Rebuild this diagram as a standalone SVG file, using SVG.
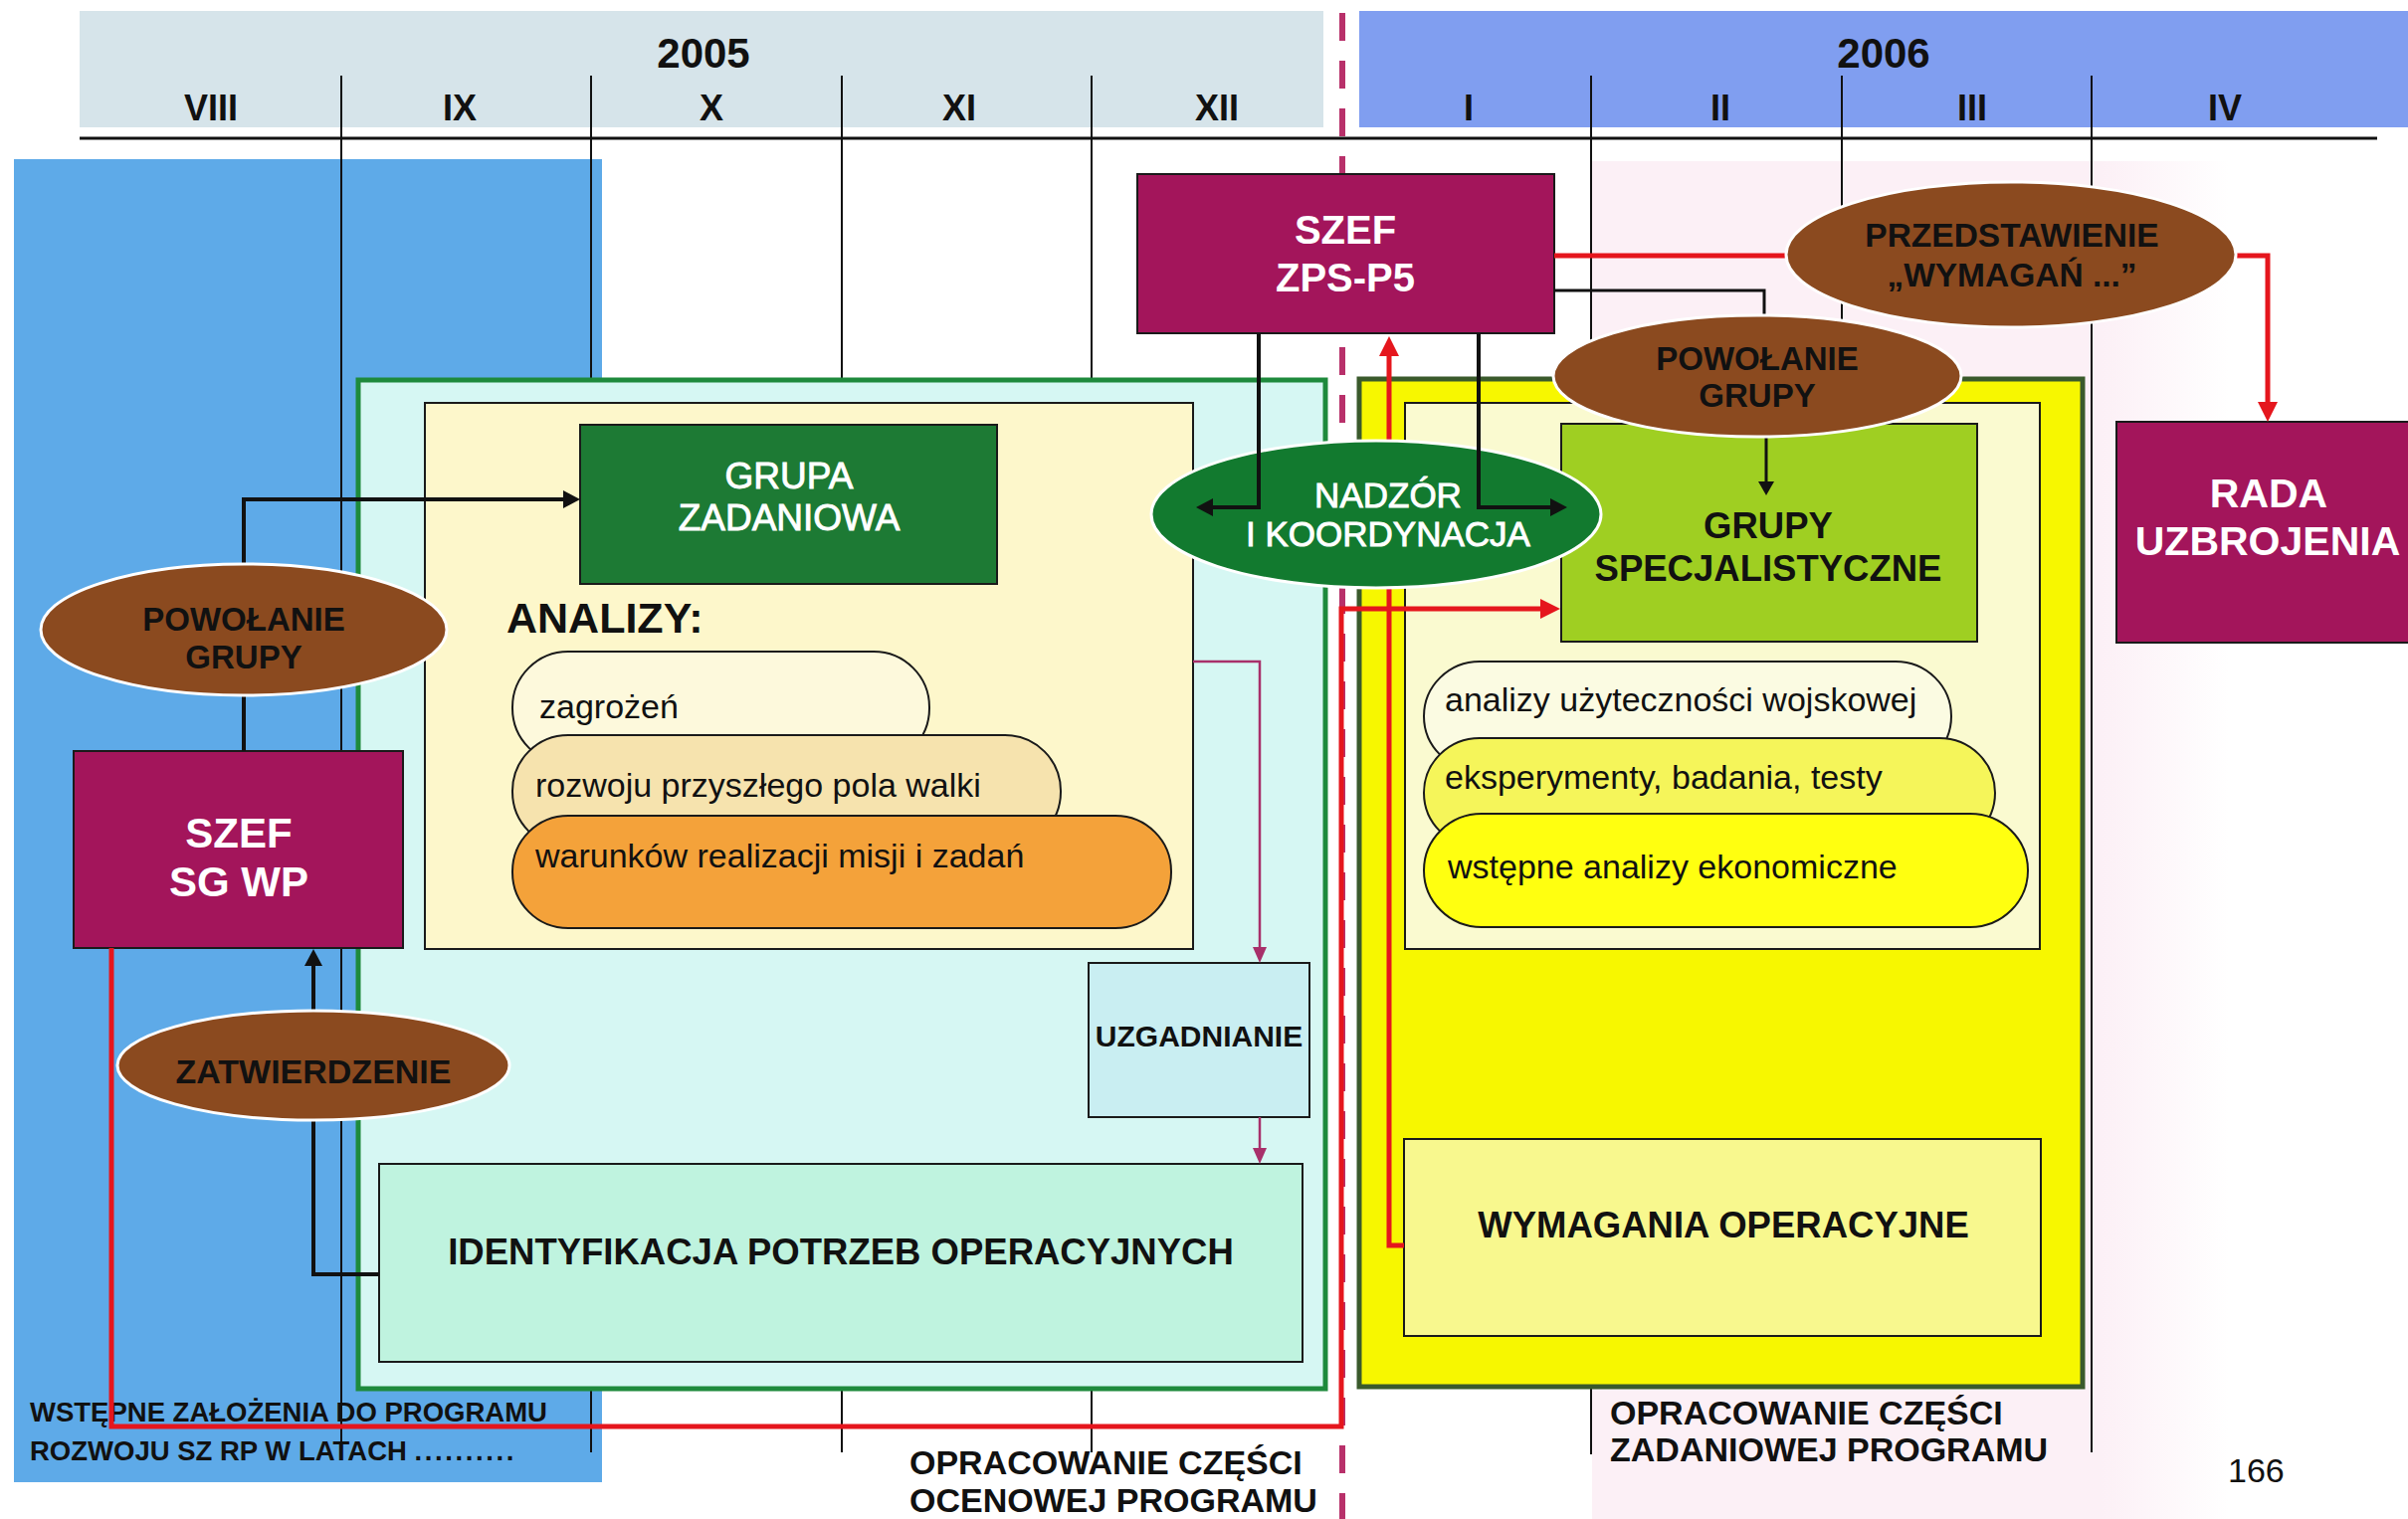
<svg xmlns="http://www.w3.org/2000/svg" width="2420" height="1527" viewBox="0 0 2420 1527">
  <style>
    text { font-family: 'Liberation Sans', Arial, sans-serif; fill: #111; }
    .b { font-weight: bold; }
    .c { text-anchor: middle; }
    .w { fill: #fff; }
    .semi { stroke: #fff; stroke-width: 0.9; }
    .box { stroke: #1a1a1a; stroke-width: 2; }
    .maroon { fill: #a3155b; stroke: #1a1a1a; stroke-width: 2; }
    .brown { fill: #8b4a1f; stroke: #fff; stroke-width: 3; }
    .div { stroke: #111; stroke-width: 2; fill: none; }
    .blk { stroke: #111; fill: none; }
    .red { stroke: #e5161d; stroke-width: 5; fill: none; }
    .mag { stroke: #a8306a; stroke-width: 2.5; fill: none; }
    .month { font-size: 36px; font-weight: bold; text-anchor: middle; }
    .year { font-size: 42px; font-weight: bold; text-anchor: middle; }
    .pill { font-size: 34px; }
  </style>
  <defs>
    <marker id="arrBlk" markerUnits="userSpaceOnUse" markerWidth="17" markerHeight="18" refX="0" refY="9" orient="auto">
      <path d="M0,0 L17,9 L0,18 z" fill="#111"/>
    </marker>
    <marker id="arrBlkS" markerUnits="userSpaceOnUse" markerWidth="14" markerHeight="16" refX="0" refY="8" orient="auto">
      <path d="M0,0 L14,8 L0,16 z" fill="#111"/>
    </marker>
    <marker id="arrRed" markerUnits="userSpaceOnUse" markerWidth="20" markerHeight="20" refX="0" refY="10" orient="auto">
      <path d="M0,0 L20,10 L0,20 z" fill="#e5161d"/>
    </marker>
    <marker id="arrMag" markerUnits="userSpaceOnUse" markerWidth="16" markerHeight="14" refX="0" refY="7" orient="auto">
      <path d="M0,0 L16,7 L0,14 z" fill="#a8306a"/>
    </marker>
    <linearGradient id="pinkFade" x1="0" y1="0" x2="1" y2="0">
      <stop offset="0" stop-color="#fcf0f6"/>
      <stop offset="0.8" stop-color="#fcf0f6"/>
      <stop offset="1" stop-color="#ffffff"/>
    </linearGradient>
  </defs>

  <!-- page -->
  <rect x="0" y="0" width="2420" height="1527" fill="#fff"/>
  <rect x="1600" y="162" width="640" height="1365" fill="url(#pinkFade)"/>

  <!-- timeline header -->
  <g id="timeline">
    <rect x="80" y="11" width="1250" height="117" fill="#d6e4ea"/>
    <rect x="1366" y="11" width="1054" height="117" fill="#809ef0"/>
    <text class="year" x="707" y="68">2005</text>
    <text class="year" x="1893" y="68">2006</text>
    <text class="month" x="212" y="121">VIII</text>
    <text class="month" x="462" y="121">IX</text>
    <text class="month" x="715" y="121">X</text>
    <text class="month" x="964" y="121">XI</text>
    <text class="month" x="1223" y="121">XII</text>
    <text class="month" x="1476" y="121">I</text>
    <text class="month" x="1729" y="121">II</text>
    <text class="month" x="1982" y="121">III</text>
    <text class="month" x="2236" y="121">IV</text>
  </g>

  <!-- left phase panel -->
  <rect id="panel-left" x="14" y="160" width="591" height="1330" fill="#5eaae8"/>

  <!-- month dividers, axis and year boundary -->
  <g id="grid">
    <line x1="80" y1="139" x2="2389" y2="139" stroke="#111" stroke-width="3"/>
    <line class="div" x1="343" y1="76" x2="343" y2="1460"/>
    <line class="div" x1="594" y1="76" x2="594" y2="1460"/>
    <line class="div" x1="846" y1="76" x2="846" y2="1460"/>
    <line class="div" x1="1097" y1="76" x2="1097" y2="1460"/>
    <line class="div" x1="1599" y1="76" x2="1599" y2="1462"/>
    <line class="div" x1="1851" y1="76" x2="1851" y2="400"/>
    <line class="div" x1="2102" y1="76" x2="2102" y2="1460"/>
    <line x1="1349" y1="13" x2="1349" y2="1527" stroke="#b8306a" stroke-width="6" stroke-dasharray="28 20"/>
  </g>

  <!-- phase frames -->
  <rect id="frame-ocenowa" x="360" y="382" width="972" height="1014" fill="#d6f7f3" stroke="#1e8a3c" stroke-width="5"/>
  <rect id="frame-zadaniowa" x="1366" y="381" width="727" height="1013" fill="#f7f700" stroke="#3a5a2c" stroke-width="5"/>

  <!-- left: analyses -->
  <g id="analizy">
    <rect x="427" y="405" width="772" height="549" fill="#fdf7cb" class="box"/>
    <text class="b" x="509" y="636" font-size="43">ANALIZY:</text>
  </g>
  <g id="grupa-zadaniowa">
    <rect x="583" y="427" width="419" height="160" fill="#1d7a34" class="box"/>
    <text class="c w semi" x="793" y="491" font-size="37">GRUPA</text>
    <text class="c w semi" x="793" y="533" font-size="37">ZADANIOWA</text>
  </g>
  <g id="analiza-zagrozen">
    <rect x="515" y="655" width="419" height="113" rx="56" ry="56" fill="#fdf9dc" class="box"/>
    <text class="pill" x="542" y="722">zagrożeń</text>
  </g>
  <g id="analiza-pola-walki">
    <rect x="515" y="739" width="551" height="113" rx="56" ry="56" fill="#f6e3ae" class="box"/>
    <text class="pill" x="538" y="801">rozwoju przyszłego pola walki</text>
  </g>
  <g id="analiza-misji">
    <rect x="515" y="820" width="662" height="113" rx="56" ry="56" fill="#f4a23a" class="box"/>
    <text class="pill" x="538" y="872">warunków realizacji misji i zadań</text>
  </g>
  <g id="uzgadnianie">
    <rect x="1094" y="968" width="222" height="155" fill="#c9eef2" class="box"/>
    <text class="b c" x="1205" y="1052" font-size="30">UZGADNIANIE</text>
  </g>
  <g id="identyfikacja">
    <rect x="381" y="1170" width="928" height="199" fill="#bff3df" class="box"/>
    <text class="b c" x="845" y="1271" font-size="36.5">IDENTYFIKACJA POTRZEB OPERACYJNYCH</text>
  </g>
  <g id="szef-sg-wp">
    <rect x="74" y="755" width="331" height="198" class="maroon"/>
    <text class="b c w" x="240" y="852" font-size="42">SZEF</text>
    <text class="b c w" x="240" y="901" font-size="42">SG WP</text>
  </g>

  <!-- right: task part -->
  <g id="szef-zps-p5">
    <rect x="1143" y="175" width="419" height="160" class="maroon"/>
    <text class="b c w" x="1352" y="245" font-size="40">SZEF</text>
    <text class="b c w" x="1352" y="293" font-size="40">ZPS-P5</text>
  </g>
  <rect id="zadania" x="1412" y="405" width="638" height="549" fill="#fafad0" class="box"/>
  <g id="grupy-specjalistyczne">
    <rect x="1569" y="426" width="418" height="219" fill="#9fcf22" class="box"/>
    <text class="b c" x="1777" y="541" font-size="36.5">GRUPY</text>
    <text class="b c" x="1777" y="584" font-size="36.5">SPECJALISTYCZNE</text>
  </g>
  <g id="analizy-uzytecznosci">
    <rect x="1431" y="665" width="530" height="110" rx="56" ry="55" fill="#fbfbe2" class="box"/>
    <text class="pill" x="1452" y="715">analizy użyteczności wojskowej</text>
  </g>
  <g id="eksperymenty">
    <rect x="1431" y="742" width="574" height="110" rx="56" ry="55" fill="#f5f55a" class="box"/>
    <text class="pill" x="1452" y="793">eksperymenty, badania, testy</text>
  </g>
  <g id="analizy-ekonomiczne">
    <rect x="1431" y="818" width="607" height="114" rx="58" ry="57" fill="#ffff10" class="box"/>
    <text class="pill" x="1455" y="883">wstępne analizy ekonomiczne</text>
  </g>
  <g id="wymagania-operacyjne">
    <rect x="1411" y="1145" width="640" height="198" fill="#f8f88e" class="box"/>
    <text class="b c" x="1732" y="1244" font-size="36.5">WYMAGANIA OPERACYJNE</text>
  </g>
  <g id="rada-uzbrojenia">
    <rect x="2127" y="424" width="300" height="222" class="maroon"/>
    <text class="b c w" x="2280" y="510" font-size="41">RADA</text>
    <text class="b c w" x="2279" y="558" font-size="41">UZBROJENIA</text>
  </g>

  <!-- phase captions -->
  <g id="captions">
    <text class="b" x="30" y="1429" font-size="27.5">WSTĘPNE ZAŁOŻENIA DO PROGRAMU</text>
    <text class="b" x="30" y="1468" font-size="27.5">ROZWOJU SZ RP W LATACH <tspan letter-spacing="2.6">..........</tspan></text>
    <text class="b" x="914" y="1482" font-size="34">OPRACOWANIE CZĘŚCI</text>
    <text class="b" x="914" y="1520" font-size="34">OCENOWEJ PROGRAMU</text>
    <text class="b" x="1618" y="1432" font-size="34">OPRACOWANIE CZĘŚCI</text>
    <text class="b" x="1618" y="1469" font-size="34">ZADANIOWEJ PROGRAMU</text>
    <text x="2239" y="1490" font-size="34">166</text>
  </g>

  <!-- connectors running beneath the ovals -->
  <g id="connectors">
    <path class="blk" stroke-width="4" d="M245 755 V502 H566" marker-end="url(#arrBlk)"/>
    <path class="blk" stroke-width="4" d="M381 1281 H315 V971" marker-end="url(#arrBlk)"/>
    <path class="blk" stroke-width="3" d="M1562 292 H1773 V330"/>
    <path class="blk" stroke-width="3" d="M1775 430 V484" marker-end="url(#arrBlkS)"/>
    <path class="mag" d="M1199 665 H1266 V952" marker-end="url(#arrMag)"/>
    <path class="mag" d="M1266 1123 V1154" marker-end="url(#arrMag)"/>
    <path class="red" d="M112 953 V1434 H1348 V612 H1548" marker-end="url(#arrRed)"/>
    <path class="red" d="M1411 1252 H1396 V358" marker-end="url(#arrRed)"/>
    <path class="red" d="M1562 257 H1810"/>
    <path class="red" d="M2235 257 H2279 V404" marker-end="url(#arrRed)"/>
  </g>

  <!-- ovals -->
  <g id="powolanie-grupy-1">
    <ellipse cx="245" cy="633" rx="204" ry="66" class="brown"/>
    <text class="b c" x="245" y="634" font-size="33">POWOŁANIE</text>
    <text class="b c" x="245" y="672" font-size="33">GRUPY</text>
  </g>
  <g id="zatwierdzenie">
    <ellipse cx="315" cy="1071" rx="197" ry="55" class="brown"/>
    <text class="b c" x="315" y="1089" font-size="34">ZATWIERDZENIE</text>
  </g>
  <g id="nadzor">
    <ellipse cx="1383" cy="517" rx="226" ry="74" fill="#127a2f" stroke="#fff" stroke-width="3"/>
    <text class="c w semi" x="1395" y="510" font-size="35">NADZÓR</text>
    <text class="c w semi" x="1395" y="549" font-size="35">I KOORDYNACJA</text>
  </g>
  <g id="powolanie-grupy-2">
    <ellipse cx="1766" cy="378" rx="205" ry="61" class="brown"/>
    <text class="b c" x="1766" y="372" font-size="33">POWOŁANIE</text>
    <text class="b c" x="1766" y="409" font-size="33">GRUPY</text>
  </g>
  <g id="przedstawienie">
    <ellipse cx="2021" cy="256" rx="226" ry="73" class="brown"/>
    <text class="b c" x="2022" y="248" font-size="33.5">PRZEDSTAWIENIE</text>
    <text class="b c" x="2022" y="288" font-size="33.5">„WYMAGAŃ ...”</text>
  </g>

  <!-- supervision arrows drawn over the oval -->
  <g id="connectors-over">
    <path class="blk" stroke-width="4" d="M1265 335 V510 H1219" marker-end="url(#arrBlk)"/>
    <path class="blk" stroke-width="4" d="M1486 335 V510 H1558" marker-end="url(#arrBlk)"/>
  </g>
</svg>
